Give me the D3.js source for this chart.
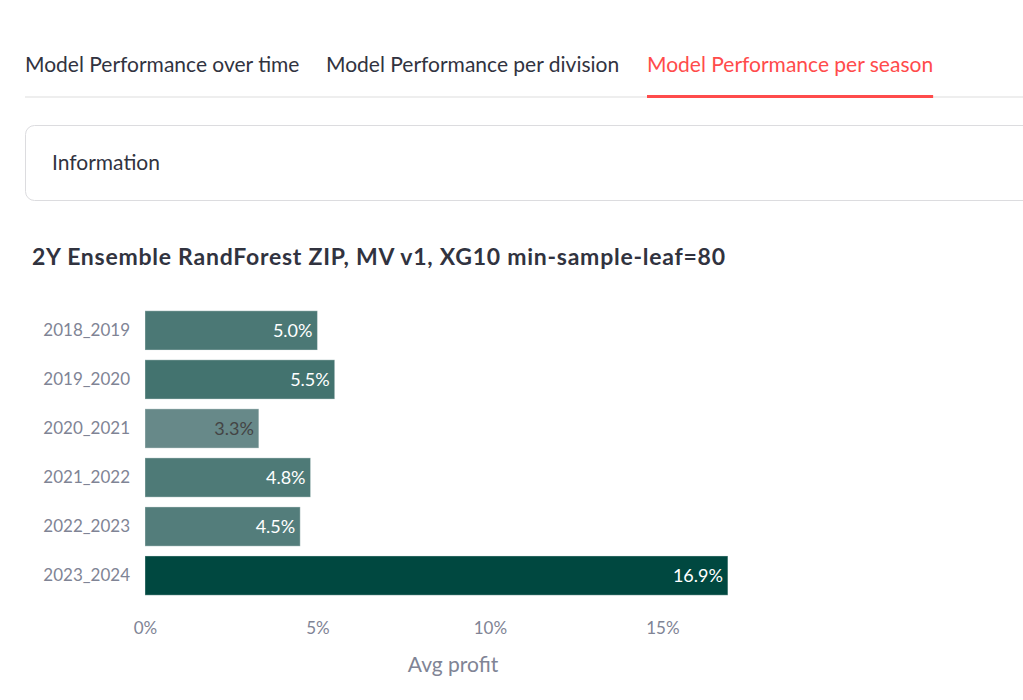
<!DOCTYPE html>
<html>
<head>
<meta charset="utf-8">
<script src="https://cdn.jsdelivr.net/npm/d3@7"></script>
<style>
  body { margin: 0; background: #fff; }
  svg { display: block; }
</style>
</head>
<body>
<svg id="chart"></svg>
<script>
// data
const tabs = ['Model Performance over time', 'Model Performance per division', 'Model Performance per season'];
const seasons = ['2018_2019', '2019_2020', '2020_2021', '2021_2022', '2022_2023', '2023_2024'];
const profits = [5.0, 5.5, 3.3, 4.8, 4.5, 16.9];
const xTicks = [0, 5, 10, 15];

const font = 'Lato, sans-serif';
const W = 1023, H = 700;

const svg = d3.select('#chart').attr('width', W).attr('height', H);

// tabs
const tabX = [25, 326, 647];
const tabG = svg.append('g');
tabG.append('rect').attr('x', 25).attr('y', 96).attr('width', W - 25).attr('height', 2).attr('fill', '#eeeeee');
tabs.forEach((t, i) => {
  const txt = tabG.append('text')
    .attr('x', tabX[i]).attr('y', 72)
    .attr('font-family', font).attr('font-size', 21)
    .attr('fill', i === 2 ? '#ff4b4b' : '#31333f')
    .text(t);
  if (i === 2) {
    const w = txt.node().getComputedTextLength();
    tabG.append('rect').attr('x', tabX[i]).attr('y', 95).attr('width', w).attr('height', 3).attr('fill', '#ff4b4b');
  }
});

// information box
svg.append('rect').attr('x', 25.5).attr('y', 125.5).attr('width', W + 20).attr('height', 75)
  .attr('rx', 9).attr('fill', '#fff').attr('stroke', '#dcdcdf');
svg.append('text').attr('x', 52).attr('y', 170)
  .attr('font-family', font).attr('font-size', 21).attr('fill', '#31333f')
  .text('Information');

// title
svg.append('text').attr('x', 32).attr('y', 265)
  .attr('font-family', font).attr('font-size', 23).attr('font-weight', 700).attr('fill', '#31333f')
  .attr('textLength', 693).attr('lengthAdjust', 'spacing')
  .text('2Y Ensemble RandForest ZIP, MV v1, XG10 min-sample-leaf=80');

// scales
const x = d3.scaleLinear().domain([0, 17.86]).range([145, 761]);
const y = d3.scaleBand().domain(seasons).range([301, 605]).paddingInner(0.2).paddingOuter(0.2);
const color = d3.scaleLinear().domain([3.3, 5.5, 16.9])
  .range(['#678989', '#43736f', '#004840']);

const g = svg.append('g');

g.selectAll('rect.bar').data(seasons).enter().append('rect')
  .attr('class', 'bar')
  .attr('x', x(0))
  .attr('y', d => y(d))
  .attr('width', (d, i) => x(profits[i]) - x(0))
  .attr('height', y.bandwidth())
  .attr('fill', (d, i) => color(profits[i]))
  .attr('stroke', 'rgba(255,255,255,0.35)');

g.selectAll('text.val').data(seasons).enter().append('text')
  .attr('class', 'val')
  .attr('x', (d, i) => x(profits[i]) - 5)
  .attr('y', d => y(d) + y.bandwidth() / 2)
  .attr('dy', '0.38em')
  .attr('text-anchor', 'end')
  .attr('font-family', font).attr('font-size', 18)
  .attr('fill', (d, i) => profits[i] < 4 ? '#444444' : '#ffffff')
  .text((d, i) => profits[i].toFixed(1) + '%');

// y axis labels
const yAxis = g.append('g').attr('transform', `translate(${x(0)},0)`)
  .call(d3.axisLeft(y).tickSize(0).tickPadding(15));
yAxis.select('.domain').remove();
yAxis.selectAll('text').attr('font-family', font).attr('font-size', 17).attr('fill', '#808495');

// x axis
const xAxis = g.append('g').attr('transform', `translate(0,${605})`)
  .call(d3.axisBottom(x).tickValues(xTicks).tickSize(0).tickPadding(17).tickFormat(d => d + '%'));
xAxis.select('.domain').remove();
xAxis.selectAll('text').attr('font-family', font).attr('font-size', 17).attr('fill', '#808495');

g.append('text').attr('x', (x.range()[0] + x.range()[1]) / 2).attr('y', 672)
  .attr('text-anchor', 'middle')
  .attr('font-family', font).attr('font-size', 21).attr('fill', '#808495')
  .text('Avg profit');
</script>
</body>
</html>
